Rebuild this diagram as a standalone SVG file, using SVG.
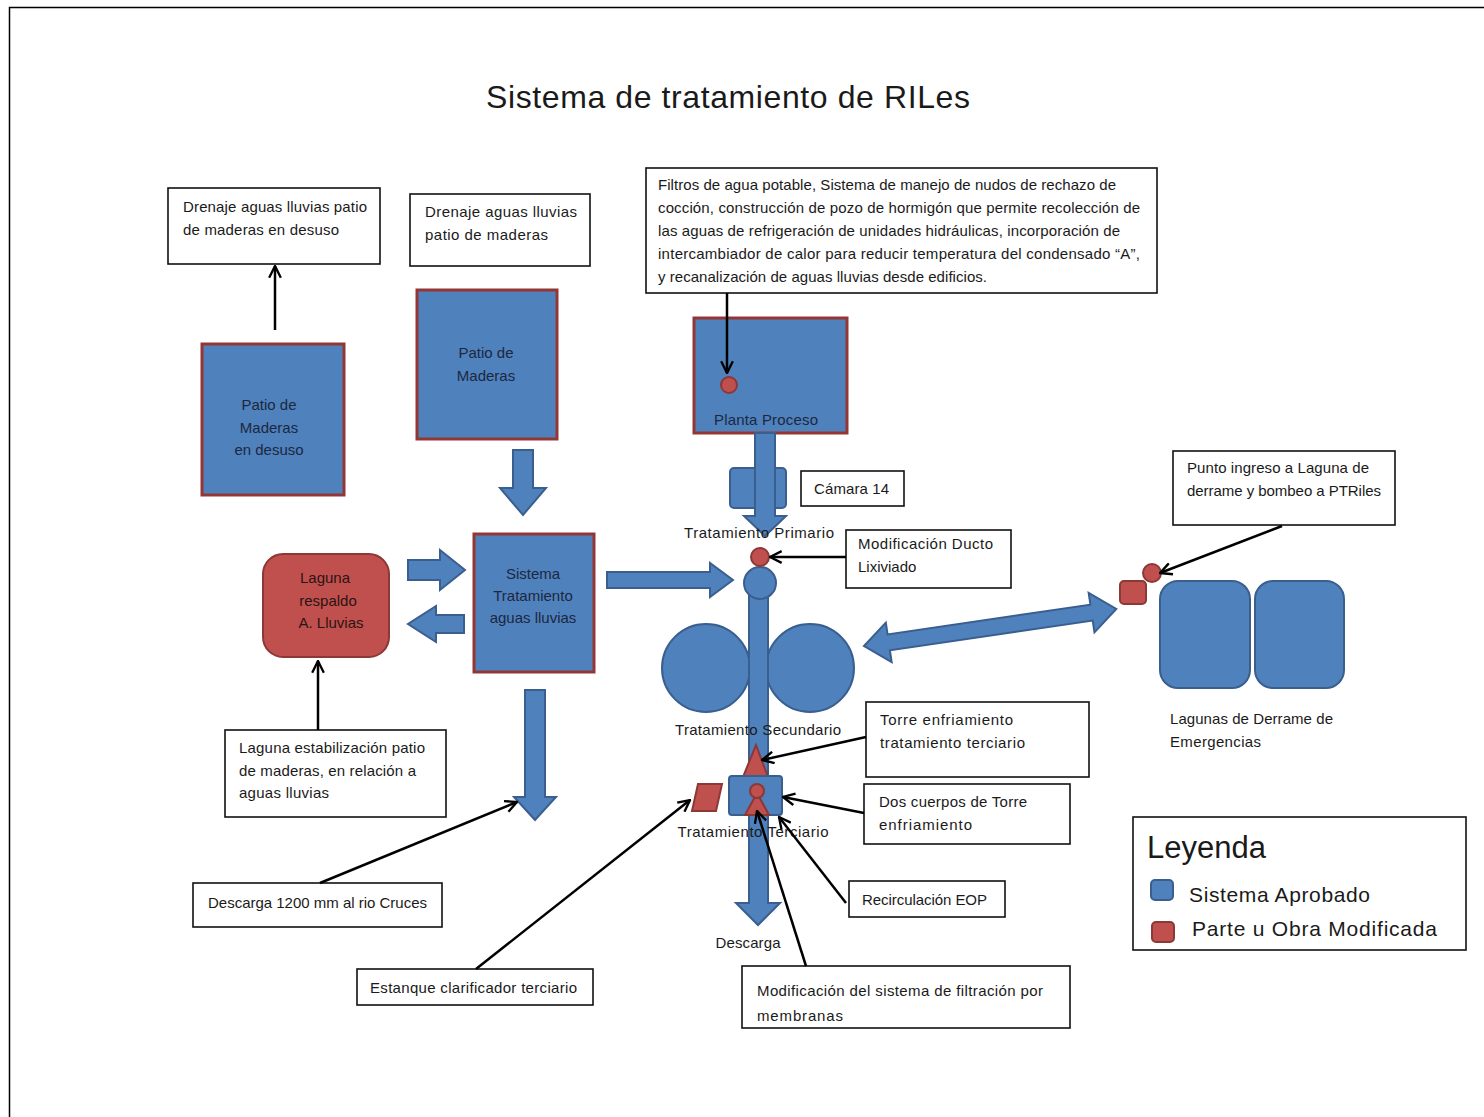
<svg xmlns="http://www.w3.org/2000/svg" width="1484" height="1117" viewBox="0 0 1484 1117">
<style>
  text { font-family: "Liberation Sans", Arial, sans-serif; font-size: 15px; fill: #1a1a1a; }
  .box { fill: #ffffff; stroke: #111; stroke-width: 1.6; }
  .blue { fill: #4F81BD; stroke: #3A5F8F; stroke-width: 2; }
  .bluered { fill: #4F81BD; stroke: #943634; stroke-width: 3; }
  .red { fill: #C0504D; stroke: #8C3836; stroke-width: 2; }
  .lbl { fill: #1c2840; text-anchor: middle; }
  .conn { stroke: #000; stroke-width: 2.5; fill: none; marker-end: url(#open); }
</style>
<defs>
  <marker id="open" viewBox="0 0 12 12" refX="11" refY="6" markerWidth="14" markerHeight="14" markerUnits="userSpaceOnUse" orient="auto">
    <path d="M1,1 L11,6 L1,11" fill="none" stroke="#000" stroke-width="2"/>
  </marker>
</defs>
<rect x="0" y="0" width="1484" height="1117" fill="#ffffff"/>
<rect x="9.5" y="7.5" width="1490" height="1130" fill="none" stroke="#000" stroke-width="1.5"/>

<text x="728" y="108" text-anchor="middle" style="font-size:32px" textLength="484">Sistema de tratamiento de RILes</text>

<g id="txt-drenaje-desuso">
  <rect class="box" x="168" y="188" width="212" height="76"/>
  <text x="183" y="212" textLength="184">Drenaje aguas lluvias patio</text>
  <text x="183" y="235" textLength="156">de maderas en desuso</text>
</g>
<g id="txt-drenaje">
  <rect class="box" x="410" y="194" width="180" height="72"/>
  <text x="425" y="217" textLength="152">Drenaje  aguas  lluvias</text>
  <text x="425" y="240" textLength="123">patio de maderas</text>
</g>
<g id="txt-filtros">
  <rect class="box" x="646" y="168" width="511" height="125"/>
  <text x="658" y="190" textLength="458">Filtros de agua potable, Sistema de manejo de nudos de rechazo de</text>
  <text x="658" y="213" textLength="482">cocción, construcción de pozo de hormigón que permite recolección de</text>
  <text x="658" y="236" textLength="462">las aguas de refrigeración de unidades hidráulicas, incorporación de</text>
  <text x="658" y="259" textLength="482">intercambiador de calor para reducir temperatura del condensado “A”,</text>
  <text x="658" y="282" textLength="329">y recanalización de aguas lluvias desde edificios.</text>
</g>

<g id="patio-desuso">
  <rect class="bluered" x="202" y="344" width="142" height="151"/>
  <text class="lbl" x="269" y="410">Patio de</text>
  <text class="lbl" x="269" y="433">Maderas</text>
  <text class="lbl" x="269" y="455">en desuso</text>
</g>
<g id="patio-maderas">
  <rect class="bluered" x="417" y="290" width="140" height="149"/>
  <text class="lbl" x="486" y="358">Patio de</text>
  <text class="lbl" x="486" y="381">Maderas</text>
</g>
<g id="planta-proceso">
  <rect class="bluered" x="694" y="318" width="153" height="115"/>
  <text class="lbl" x="766" y="425" textLength="104">Planta Proceso</text>
  <circle class="red" cx="729" cy="385" r="8"/>
</g>

<g id="sistema-tratamiento">
  <rect class="bluered" x="474" y="534" width="120" height="138"/>
  <text class="lbl" x="533" y="579">Sistema</text>
  <text class="lbl" x="533" y="601">Tratamiento</text>
  <text class="lbl" x="533" y="623">aguas lluvias</text>
</g>
<g id="laguna-respaldo">
  <rect class="red" x="263" y="554" width="126" height="103" rx="20"/>
  <text class="lbl" style="fill:#2a1414" x="325" y="583">Laguna</text>
  <text class="lbl" style="fill:#2a1414" x="328" y="606">respaldo</text>
  <text class="lbl" style="fill:#2a1414" x="331" y="628">A. Lluvias</text>
</g>

<g id="flow-arrows">
  <polygon class="blue" points="513,450 533,450 533,488 546,488 523,515 500,488 513,488"/>
  <polygon class="blue" points="408,560 440,560 440,550 465,570 440,590 440,580 408,580"/>
  <polygon class="blue" points="464,615 436,615 436,606 408,624 436,642 436,633 464,633"/>
  <polygon class="blue" points="607,572 710,572 710,563 733,580 710,597 710,588 607,588"/>
  <polygon class="blue" points="525,690 545,690 545,797 556,797 535,820 514,797 525,797"/>
  <g transform="translate(864,646) rotate(-8.35)">
    <polygon class="blue" points="0,0 25,-20 25,-8 230,-8 230,-20 255,0 230,20 230,8 25,8 25,20"/>
  </g>
</g>

<g id="camara-14">
  <rect class="blue" x="730" y="468" width="56" height="40" rx="4"/>
  <polygon class="blue" points="755,433 775,433 775,516 786,516 765,536 744,516 755,516"/>
  <rect class="box" x="801" y="471" width="103" height="35"/>
  <text x="814" y="494" textLength="75">Cámara 14</text>
</g>

<g id="tratamiento-secundario">
  <circle class="blue" cx="706" cy="668" r="44"/>
  <circle class="blue" cx="810" cy="668" r="44"/>
</g>

<g id="linea-principal">
  <polygon class="blue" points="749,595 768,595 768,903 780,903 758,925 736,903 749,903"/>
  <ellipse class="blue" cx="760" cy="583" rx="16" ry="16"/>
  <circle class="red" cx="760" cy="557" r="9"/>
  <text x="759" y="538" text-anchor="middle" textLength="150">Tratamiento Primario</text>
  <text x="758" y="735" text-anchor="middle" textLength="166">Tratamiento Secundario</text>
</g>

<g id="tratamiento-terciario">
  <polygon class="red" points="756,745 768,777 743,777"/>
  <rect class="blue" x="729" y="776" width="53" height="39" rx="3"/>
  <polygon class="red" points="757,793 769,815 745,815"/>
  <circle class="red" cx="757" cy="791" r="7"/>
  <polygon class="red" points="698,784 722,784 716,811 692,811"/>
  <text x="753" y="837" text-anchor="middle" textLength="151">Tratamiento Terciario</text>
  <text x="748" y="948" text-anchor="middle" textLength="65">Descarga</text>
</g>

<g id="lagunas-derrame">
  <rect class="red" x="1120" y="581" width="26" height="23" rx="4"/>
  <circle class="red" cx="1152" cy="573" r="9"/>
  <rect class="blue" x="1160" y="581" width="90" height="107" rx="18"/>
  <rect class="blue" x="1255" y="581" width="89" height="107" rx="18"/>
  <text x="1170" y="724" textLength="163">Lagunas de Derrame de</text>
  <text x="1170" y="747" textLength="91">Emergencias</text>
</g>

<g id="txt-punto">
  <rect class="box" x="1173" y="451" width="222" height="74"/>
  <text x="1187" y="473" textLength="182">Punto ingreso a Laguna de</text>
  <text x="1187" y="496" textLength="194">derrame y bombeo a PTRiles</text>
</g>
<g id="txt-ducto">
  <rect class="box" x="846" y="530" width="165" height="58"/>
  <text x="858" y="549" textLength="135">Modificación Ducto</text>
  <text x="858" y="572">Lixiviado</text>
</g>
<g id="txt-torre">
  <rect class="box" x="866" y="702" width="223" height="75"/>
  <text x="880" y="725" textLength="133">Torre enfriamiento</text>
  <text x="880" y="748" textLength="145">tratamiento terciario</text>
</g>
<g id="txt-cuerpos">
  <rect class="box" x="864" y="784" width="206" height="60"/>
  <text x="879" y="807" textLength="148">Dos cuerpos de Torre</text>
  <text x="879" y="830" textLength="93">enfriamiento</text>
</g>
<g id="txt-recirculacion">
  <rect class="box" x="849" y="881" width="156" height="36"/>
  <text x="862" y="905" textLength="125">Recirculación EOP</text>
</g>
<g id="txt-filtracion">
  <rect class="box" x="742" y="966" width="328" height="62"/>
  <text x="757" y="996" textLength="286">Modificación del sistema de filtración por</text>
  <text x="757" y="1021" textLength="86">membranas</text>
</g>
<g id="txt-laguna-estab">
  <rect class="box" x="225" y="730" width="221" height="87"/>
  <text x="239" y="753" textLength="186">Laguna estabilización patio</text>
  <text x="239" y="776" textLength="177">de maderas, en relación a</text>
  <text x="239" y="798" textLength="90">aguas lluvias</text>
</g>
<g id="txt-descarga">
  <rect class="box" x="193" y="883" width="249" height="44"/>
  <text x="208" y="908" textLength="219">Descarga 1200 mm al rio Cruces</text>
</g>
<g id="txt-estanque">
  <rect class="box" x="357" y="969" width="236" height="36"/>
  <text x="370" y="993" textLength="207">Estanque clarificador terciario</text>
</g>

<g id="leyenda">
  <rect class="box" x="1133" y="817" width="333" height="133"/>
  <text x="1147" y="858" style="font-size:31px">Leyenda</text>
  <rect class="blue" x="1151" y="880" width="22" height="20" rx="4"/>
  <text x="1189" y="902" style="font-size:21px" textLength="181">Sistema Aprobado</text>
  <rect class="red" x="1152" y="922" width="22" height="20" rx="4"/>
  <text x="1192" y="936" style="font-size:21px" textLength="245">Parte u Obra Modificada</text>
</g>

<g id="connectors">
  <line class="conn" x1="275" y1="330" x2="275" y2="266"/>
  <line class="conn" x1="727" y1="293" x2="727" y2="373"/>
  <line class="conn" x1="318" y1="730" x2="318" y2="661"/>
  <line class="conn" x1="320" y1="883" x2="517" y2="802"/>
  <line class="conn" x1="476" y1="969" x2="690" y2="800"/>
  <line class="conn" x1="846" y1="557" x2="770" y2="557"/>
  <line class="conn" x1="866" y1="737" x2="762" y2="760"/>
  <line class="conn" x1="864" y1="813" x2="783" y2="797"/>
  <line class="conn" x1="846" y1="903" x2="779" y2="817"/>
  <line class="conn" x1="806" y1="966" x2="757" y2="811"/>
  <line class="conn" x1="1282" y1="526" x2="1160" y2="573"/>
</g>
</svg>
